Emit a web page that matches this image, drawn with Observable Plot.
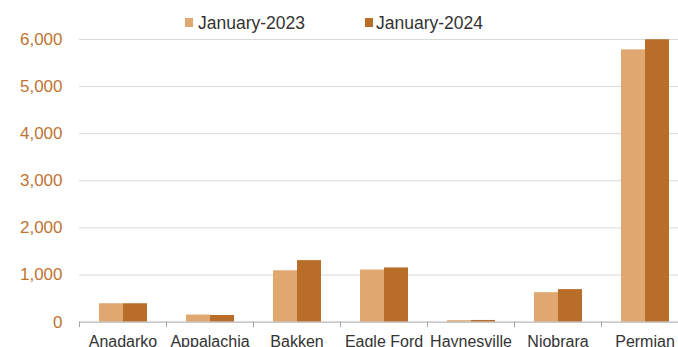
<!DOCTYPE html>
<html>
<head>
<meta charset="utf-8">
<script src="https://cdn.jsdelivr.net/npm/d3@7"></script>
<script src="https://cdn.jsdelivr.net/npm/@observablehq/plot@0.6"></script>
<style>
  html, body { margin: 0; padding: 0; background: #fff; overflow: hidden; }
  #wrap { width: 678px; font-family: "Liberation Sans", Arial, sans-serif; }
  #legend { position: relative; height: 30px; }
  .sw { position: absolute; width: 8px; height: 8.4px; top: 18.3px; }
  .lt { position: absolute; top: 14.6px; font-size: 17.5px; line-height: 17.5px; color: #333; white-space: nowrap; }
</style>
</head>
<body>
<div id="wrap">
  <div id="legend"></div>
  <div id="chart"></div>
</div>
<script>
const categories = ["Anadarko", "Appalachia", "Bakken", "Eagle Ford", "Haynesville", "Niobrara", "Permian"];
const series = ["January-2023", "January-2024"];
const values2023 = [390, 150, 1090, 1105, 30, 625, 5780];
const values2024 = [390, 140, 1305, 1150, 35, 690, 5995];
const yTicks = [0, 1000, 2000, 3000, 4000, 5000, 6000];
const colors = ["#E0A870", "#B86E28"];

const data = categories.flatMap((c, i) => [
  {category: c, series: series[0], value: values2023[i]},
  {category: c, series: series[1], value: values2024[i]}
]);

// legend
const legend = document.getElementById("legend");
const legendPos = [{sw: 185, tx: 198}, {sw: 364.5, tx: 376}];
series.forEach((s, i) => {
  const sw = document.createElement("div");
  sw.className = "sw";
  sw.style.left = legendPos[i].sw + "px";
  sw.style.background = colors[i];
  legend.appendChild(sw);
  const t = document.createElement("div");
  t.className = "lt";
  t.style.left = legendPos[i].tx + "px";
  t.textContent = s;
  legend.appendChild(t);
});

const fmt = d3.format(",");
const chart = Plot.plot({
  width: 678,
  height: 317,
  marginTop: 9,
  marginBottom: 25.4,
  marginLeft: 77,
  marginRight: -11,
  style: {fontFamily: "'Liberation Sans', Arial, sans-serif", background: "white", overflow: "hidden"},
  fx: {domain: categories, padding: 0, label: null},
  x: {domain: series, paddingInner: 0, paddingOuter: 0.75, axis: null},
  y: {domain: [0, 6000], axis: null},
  color: {domain: series, range: colors},
  marks: [
    Plot.gridY(yTicks.filter(t => t > 0), {stroke: "#d9d9d9", strokeOpacity: 1}),
    Plot.axisY(yTicks, {tickSize: 0, tickPadding: 17, tickFormat: d => fmt(d), color: "#C07432", fontSize: 17, label: null}),
    Plot.barY(data, {fx: "category", x: "series", y: "value", fill: "series"}),
    Plot.ruleY([0], {stroke: "#a6a6a6"}),
    Plot.frame({anchor: "left", stroke: "#a6a6a6", insetTop: 282.6, insetBottom: -4.5}),
    Plot.axisFx({anchor: "bottom", tickSize: 0, tickPadding: 14, fontSize: 16, color: "#333", label: null})
  ]
});
document.getElementById("chart").appendChild(chart);
</script>
</body>
</html>
